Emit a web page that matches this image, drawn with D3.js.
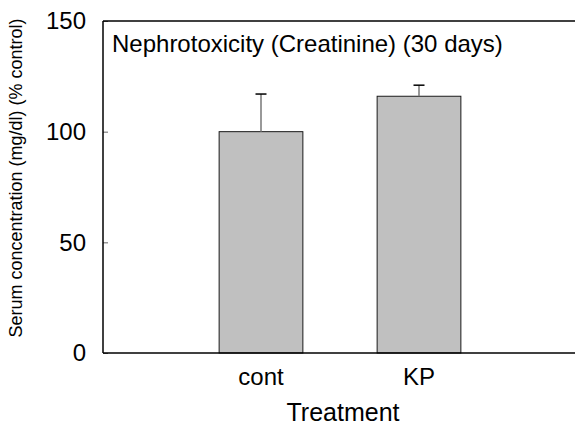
<!DOCTYPE html>
<html>
<head>
<meta charset="utf-8">
<script src="https://cdn.jsdelivr.net/npm/d3@7"></script>
<style>
  body { margin: 0; background: #fff; }
  text { font-family: "Liberation Sans", Arial, sans-serif; fill: #000; }
</style>
</head>
<body>
<svg id="chart" width="575" height="430"></svg>
<script>
// data
const treatments = ["cont", "KP"];
const means = [100, 116];
const errors = [17, 5];
const yTicks = [0, 50, 100, 150];

const svg = d3.select("#chart");
const margin = {top: 21, right: 0, bottom: 77, left: 103};
const width = 575 - margin.left - margin.right;
const height = 430 - margin.top - margin.bottom;

const g = svg.append("g")
  .attr("transform", `translate(${margin.left},${margin.top})`);

const x = d3.scaleBand()
  .domain(treatments)
  .range([0, width + 2])
  .paddingInner(0.47)
  .paddingOuter(0.735);

const y = d3.scaleLinear().domain([0, 150]).range([height, 0]);

// bars
g.selectAll("rect.bar")
  .data(treatments)
  .enter()
  .append("rect")
  .attr("class", "bar")
  .attr("x", d => x(d))
  .attr("y", (d, i) => y(means[i]))
  .attr("width", x.bandwidth())
  .attr("height", (d, i) => y(0) - y(means[i]))
  .attr("fill", "#c0c0c0")
  .attr("stroke", "#1a1a1a")
  .attr("stroke-width", 1);

// error bars (upper only)
const cap = 5.5;
g.selectAll("line.stem")
  .data(treatments)
  .enter()
  .append("line")
  .attr("x1", d => x(d) + x.bandwidth() / 2)
  .attr("x2", d => x(d) + x.bandwidth() / 2)
  .attr("y1", (d, i) => y(means[i]))
  .attr("y2", (d, i) => y(means[i] + errors[i]))
  .attr("stroke", "#777")
  .attr("stroke-width", 1.5);

g.selectAll("line.cap")
  .data(treatments)
  .enter()
  .append("line")
  .attr("x1", d => x(d) + x.bandwidth() / 2 - cap)
  .attr("x2", d => x(d) + x.bandwidth() / 2 + cap)
  .attr("y1", (d, i) => y(means[i] + errors[i]))
  .attr("y2", (d, i) => y(means[i] + errors[i]))
  .attr("stroke", "#000")
  .attr("stroke-width", 1.5);

// y axis, ticks point inward
const yAxis = d3.axisLeft(y).tickValues(yTicks).tickSize(-5).tickPadding(17);
const ya = g.append("g").call(yAxis);
ya.select(".domain").remove();
ya.selectAll(".tick line").attr("stroke", "#666");
ya.selectAll(".tick text")
  .style("font-size", "24px")
  .attr("fill", "#000");

// frame: left, top, bottom
g.append("line").attr("x1", 0).attr("x2", 0).attr("y1", 0).attr("y2", height)
  .attr("stroke", "#000").attr("stroke-width", 1.5);
g.append("line").attr("x1", 0).attr("x2", width).attr("y1", 0).attr("y2", 0)
  .attr("stroke", "#000").attr("stroke-width", 1.5);
g.append("line").attr("x1", 0).attr("x2", width).attr("y1", height).attr("y2", height)
  .attr("stroke", "#000").attr("stroke-width", 1.5);

// x category labels
g.selectAll("text.cat")
  .data(treatments)
  .enter()
  .append("text")
  .attr("class", "cat")
  .attr("x", d => x(d) + x.bandwidth() / 2)
  .attr("y", height + 32)
  .attr("text-anchor", "middle")
  .style("font-size", "24px")
  .text(d => d);

// axis titles
svg.append("text")
  .attr("x", 343)
  .attr("y", 421)
  .attr("text-anchor", "middle")
  .style("font-size", "25px")
  .text("Treatment");

svg.append("text")
  .attr("transform", "translate(22,178) rotate(-90)")
  .attr("text-anchor", "middle")
  .style("font-size", "18px")
  .text("Serum concentration (mg/dl) (% control)");

// panel title
svg.append("text")
  .attr("x", 112)
  .attr("y", 52)
  .style("font-size", "24px")
  .text("Nephrotoxicity (Creatinine) (30 days)");
</script>
</body>
</html>
